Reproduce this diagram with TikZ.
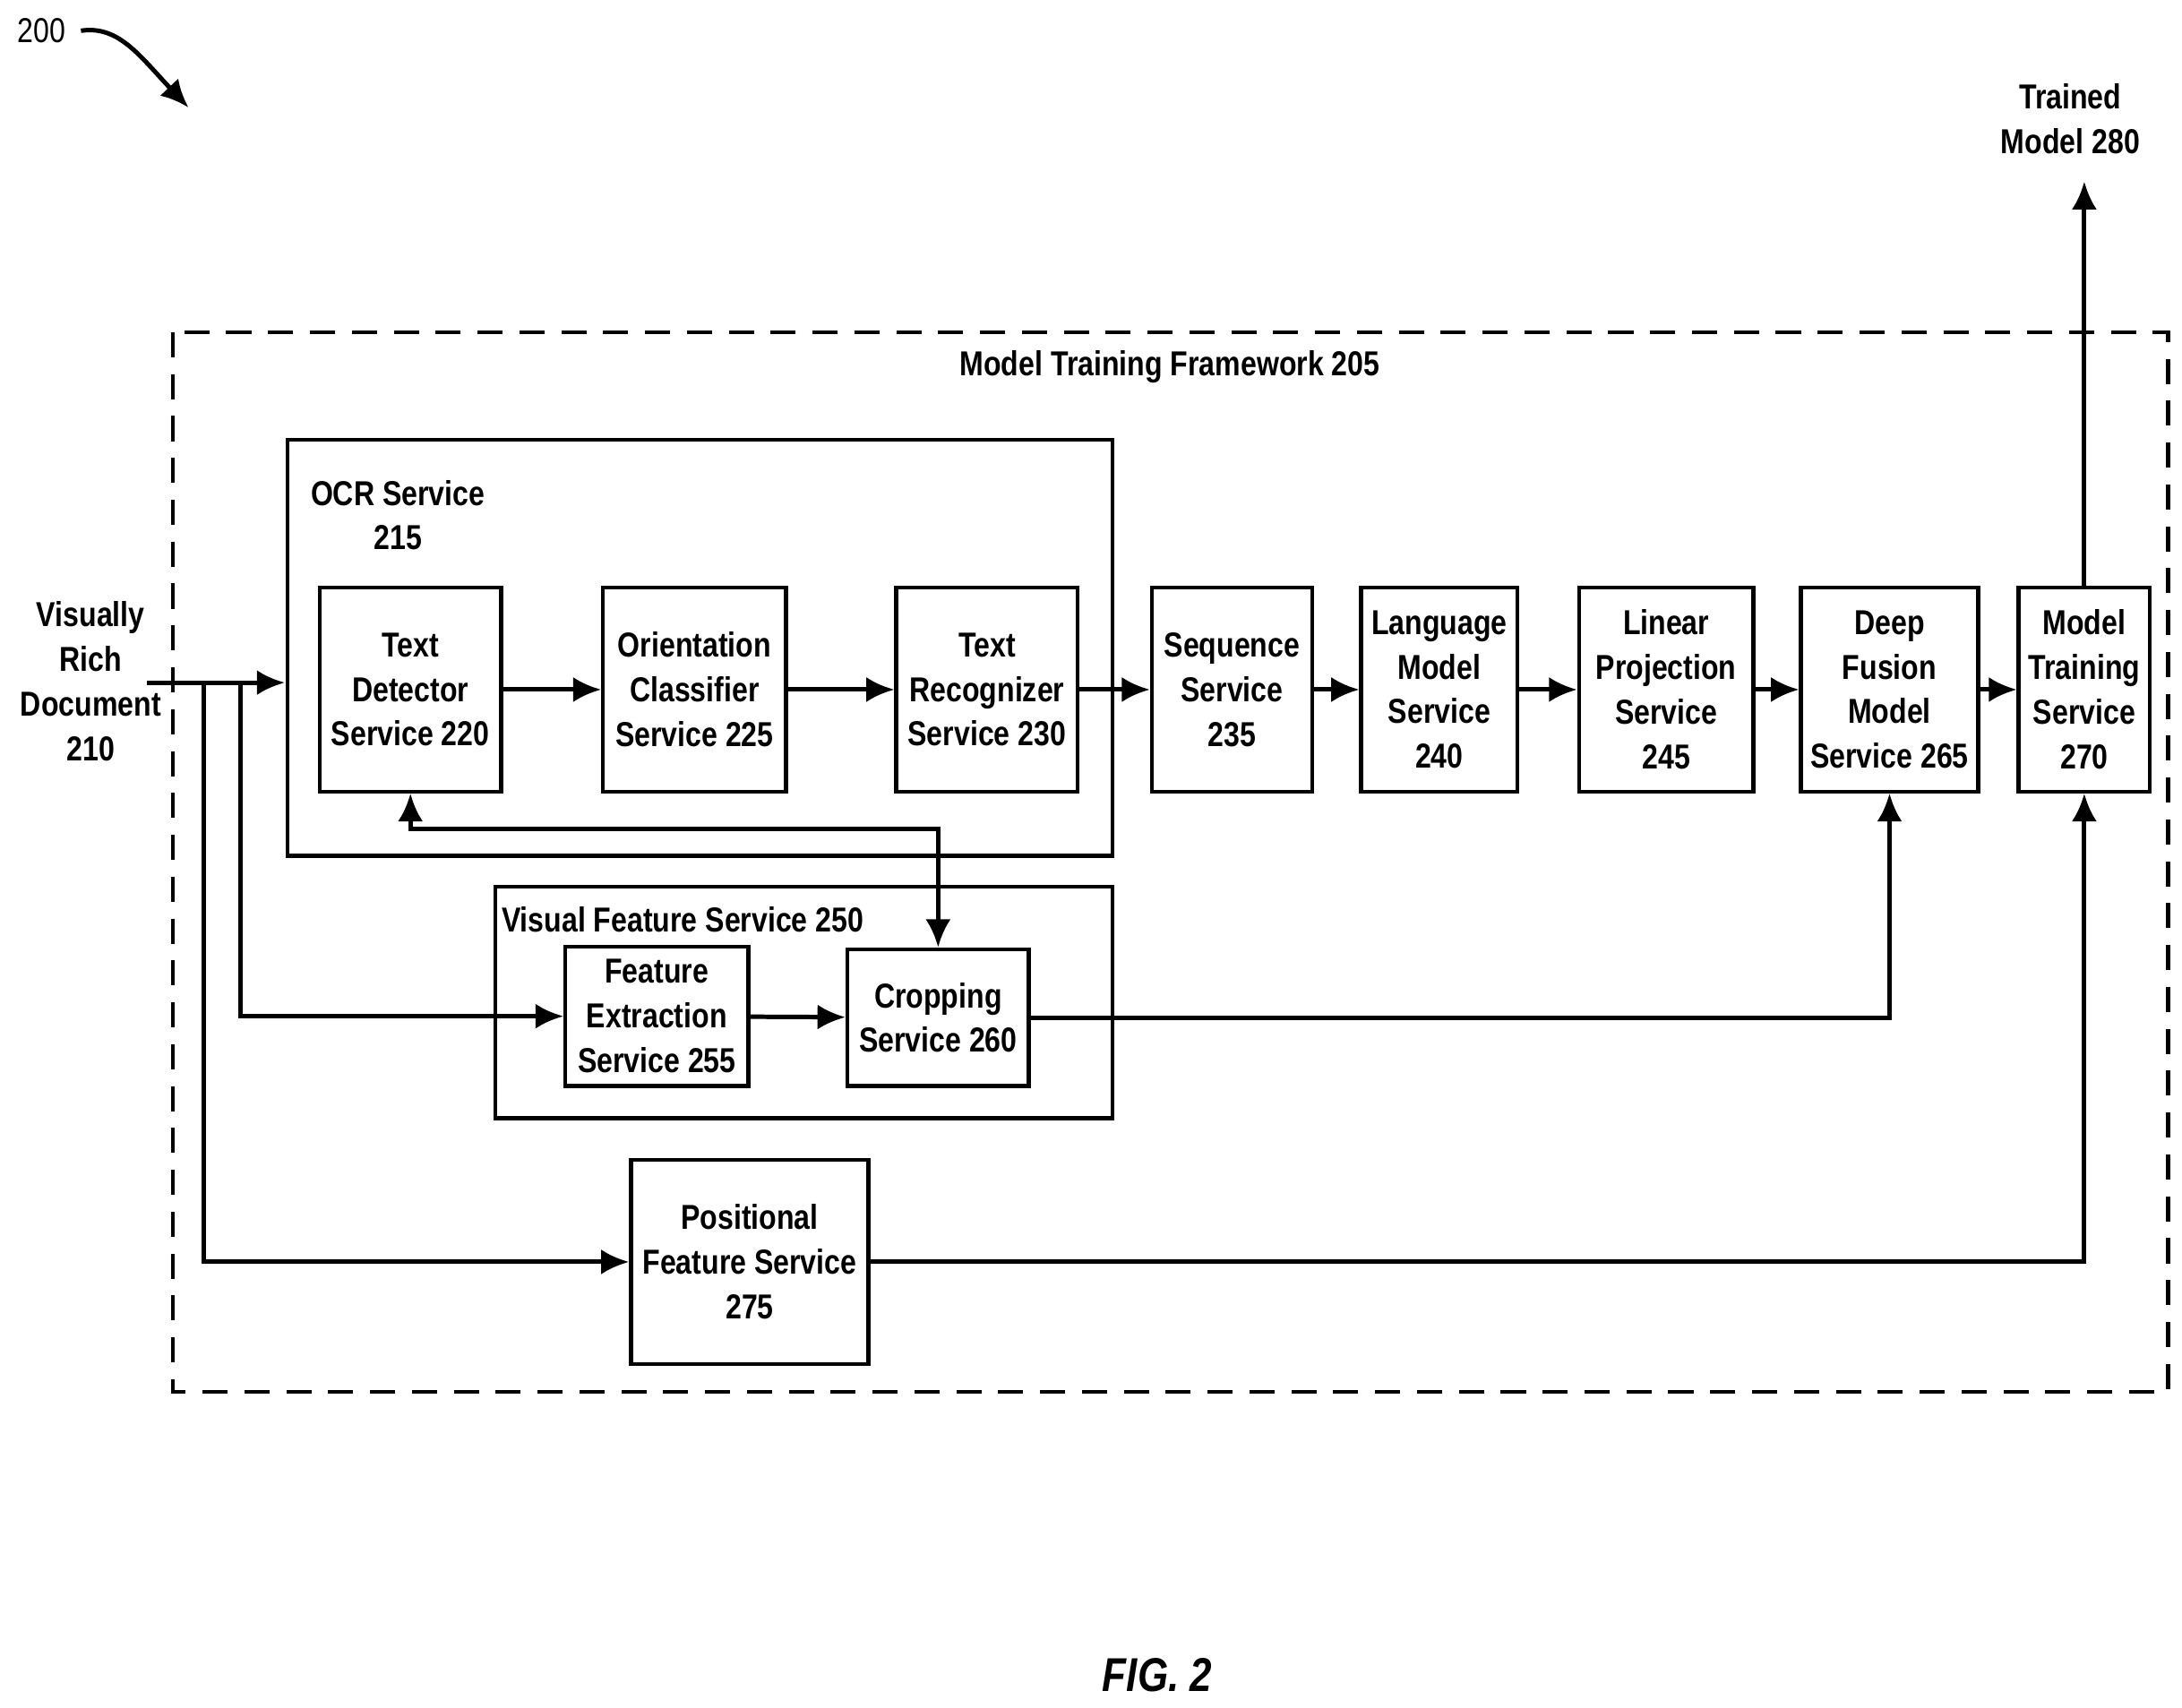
\documentclass[tikz,border=0pt]{standalone}
\usepackage{fontspec}
\setmainfont{Liberation Sans}[FakeStretch=0.83]
\usetikzlibrary{arrows.meta}
\begin{document}
\begin{tikzpicture}[x=0.5pt,y=-0.5pt,
  every node/.style={font=\bfseries\fontsize{12.4}{16}\selectfont,align=center,inner sep=0pt},
  box/.style={draw,line width=1.4pt},
  ln/.style={line width=1.6pt},
  ar/.style={ln,-{Latex[length=10pt,width=9pt]}}]
\useasboundingbox (0,0) rectangle (1563,1223);
\draw[line width=1.4pt,dash pattern=on 9pt off 6pt] (124,238) rectangle (1553,997);
\node at (838,263) {Model Training Framework 205};
\draw[box] (206,315) rectangle (797,613);
\node at (285,369) {OCR Service\\215};
\draw[box] (355,635) rectangle (797,801);
\node at (489,659) {Visual Feature Service 250};
\node[box,minimum width=65pt,minimum height=73pt] (td) at (294,494) {Text\\Detector\\Service 220};
\node[box,minimum width=65.5pt,minimum height=73pt] (oc) at (497.5,494) {Orientation\\Classifier\\Service 225};
\node[box,minimum width=65pt,minimum height=73pt] (tr) at (707,494) {Text\\Recognizer\\Service 230};
\node[box,minimum width=57.5pt,minimum height=73pt] (sq) at (882.5,494) {Sequence\\Service\\235};
\node[box,minimum width=56pt,minimum height=73pt] (lm) at (1031,494) {Language\\Model\\Service\\240};
\node[box,minimum width=62.5pt,minimum height=73pt] (lp) at (1193.5,494) {Linear\\Projection\\Service\\245};
\node[box,minimum width=63.5pt,minimum height=73pt] (df) at (1353.5,494) {Deep\\Fusion\\Model\\Service 265};
\node[box,minimum width=47pt,minimum height=73pt] (mt) at (1493,494) {Model\\Training\\Service\\270};
\node[box,minimum width=65.5pt,minimum height=50pt] (fe) at (470.5,728) {Feature\\Extraction\\Service 255};
\node[box,minimum width=65pt,minimum height=49pt] (cr) at (672,729) {Cropping\\Service 260};
\node[box,minimum width=85pt,minimum height=73pt] (pf) at (537,904) {Positional\\Feature Service\\275};
\node (vr) at (65,488) {Visually\\Rich\\Document\\210};
\node (tm) at (1483,85) {Trained\\Model 280};
\node (n200) at (30,22) {\mdseries 200};
\node (fig) at (829,1200) {\itshape\fontsize{17}{20}\selectfont FIG. 2};
\coordinate (in) at (105,489);
\coordinate (ocrw) at (204,489);
\draw[ar] (in) -- (ocrw);
\draw[ar] (172,489) |- (fe.west);
\draw[ar] (146,489) |- (pf.west);
\draw[ar] (td) -- (oc);
\draw[ar] (oc) -- (tr);
\draw[ar] (tr) -- (sq);
\draw[ar] (sq) -- (lm);
\draw[ar] (lm) -- (lp);
\draw[ar] (lp) -- (df);
\draw[ar] (df) -- (mt);
\draw[ar] (fe) -- (cr);
\draw[ln,{Latex[length=10pt,width=9pt]}-{Latex[length=10pt,width=9pt]}] (td.south) |- (672,594) -- (cr.north);
\draw[ar] (cr.east) -| (df.south);
\draw[ar] (pf.east) -| (mt.south);
\draw[ar] (mt.north) -- (1493,130);
\draw[ln,-{Latex[length=10pt,width=9pt]}] (58,22) .. controls (85,18) and (100,40) .. (135,77);
\end{tikzpicture}
\end{document}
